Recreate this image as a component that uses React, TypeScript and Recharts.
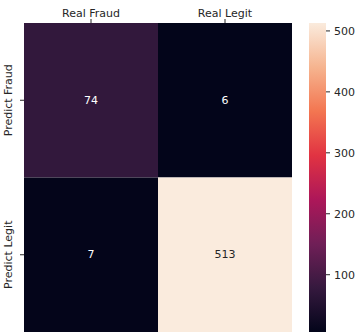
import React from "react";
import { BarChart, Bar, XAxis, YAxis, Cell, LabelList } from "recharts";

// confusion matrix: columns = actual, rows = prediction
const realLabels = ["Real Fraud", "Real Legit"];
const predictLabels = ["Predict Fraud", "Predict Legit"];
const predictFraud = [74, 6];
const predictLegit = [7, 513];
const colorbarTicks = [100, 200, 300, 400, 500];

// seaborn "rocket" colormap, sampled stops
const rocketStops = ["#03051a", "#35193e", "#701f57", "#ad1759", "#e13342", "#f37651", "#f6b48f", "#faebdd"];

const allValues = [...predictFraud, ...predictLegit];
const vmin = Math.min(...allValues);
const vmax = Math.max(...allValues);

function hexToRgb(h: string) {
  return [1, 3, 5].map((i) => parseInt(h.slice(i, i + 2), 16));
}

function rocket(value: number) {
  const t = Math.max(0, Math.min(1, (value - vmin) / (vmax - vmin)));
  const pos = t * (rocketStops.length - 1);
  const i = Math.min(Math.floor(pos), rocketStops.length - 2);
  const f = pos - i;
  const a = hexToRgb(rocketStops[i]);
  const b = hexToRgb(rocketStops[i + 1]);
  const c = a.map((v, k) => Math.round(v + (b[k] - v) * f));
  return `rgb(${c[0]},${c[1]},${c[2]})`;
}

const textFor = (value: number) => ((value - vmin) / (vmax - vmin) > 0.6 ? "#262626" : "#ffffff");

const data = realLabels.map((name, i) => ({
  name,
  fraudCell: 1,
  legitCell: 1,
  fraudCount: predictFraud[i],
  legitCount: predictLegit[i],
}));

const font = "'DejaVu Sans', sans-serif";

const YTick = (props: any) => {
  const { x, y, payload } = props;
  const label = predictLabels[Math.floor(payload.value)];
  return (
    <text
      x={x - 6}
      y={y}
      transform={`rotate(-90, ${x - 6}, ${y})`}
      textAnchor="middle"
      fontSize={11}
      fill="#262626"
      fontFamily={font}
    >
      {label}
    </text>
  );
};

const countLabel = (key: "fraudCount" | "legitCount") => (props: any) => {
  const { x, y, width, height, index } = props;
  const v = data[index][key];
  return (
    <text
      x={x + width / 2}
      y={y + height / 2}
      textAnchor="middle"
      dominantBaseline="central"
      fontSize={11}
      fill={textFor(v)}
      fontFamily={font}
    >
      {v}
    </text>
  );
};

export default function App() {
  return (
    <div style={{ position: "absolute", left: 0, top: 0, width: 359, height: 335, background: "#fff" }}>
      <div style={{ position: "absolute", left: 0, top: 0 }}>
        <BarChart
          width={292}
          height={335}
          data={data}
          margin={{ top: 0, right: 0, bottom: 3, left: 0 }}
          barCategoryGap={0}
        >
          <XAxis
            dataKey="name"
            orientation="top"
            height={23}
            axisLine={false}
            tickSize={4}
            tickLine={{ stroke: "#262626" }}
            tick={{ fontSize: 11, fill: "#262626", fontFamily: font }}
            interval={0}
          />
          <YAxis
            type="number"
            domain={[0, 2]}
            reversed
            ticks={[0.5, 1.5]}
            width={24}
            axisLine={false}
            tickSize={4}
            tickLine={{ stroke: "#262626" }}
            tick={<YTick />}
          />
          <Bar dataKey="fraudCell" stackId="m" isAnimationActive={false}>
            {data.map((d) => (
              <Cell key={d.name} fill={rocket(d.fraudCount)} />
            ))}
            <LabelList dataKey="fraudCount" content={countLabel("fraudCount")} />
          </Bar>
          <Bar dataKey="legitCell" stackId="m" isAnimationActive={false}>
            {data.map((d) => (
              <Cell key={d.name} fill={rocket(d.legitCount)} />
            ))}
            <LabelList dataKey="legitCount" content={countLabel("legitCount")} />
          </Bar>
        </BarChart>
      </div>

      {/* colorbar */}
      <div style={{ position: "absolute", left: 300, top: 0 }}>
        <BarChart
          width={59}
          height={335}
          data={[{ name: "cb", range: [vmin, vmax] }]}
          margin={{ top: 23, right: 0, bottom: 3, left: 9 }}
          barCategoryGap={0}
        >
          <defs>
            <linearGradient id="rocketGrad" x1="0" y1="1" x2="0" y2="0">
              {rocketStops.map((c, i) => (
                <stop key={c} offset={`${(i / (rocketStops.length - 1)) * 100}%`} stopColor={c} />
              ))}
            </linearGradient>
          </defs>
          <XAxis dataKey="name" hide />
          <YAxis
            type="number"
            orientation="right"
            domain={[vmin, vmax]}
            ticks={colorbarTicks}
            width={33}
            axisLine={false}
            tickSize={4}
            tickMargin={4}
            tickLine={{ stroke: "#262626" }}
            tick={{ fontSize: 11, fill: "#262626", fontFamily: font, textAnchor: "start" }}
          />
          <Bar dataKey="range" fill="url(#rocketGrad)" isAnimationActive={false} />
        </BarChart>
      </div>
    </div>
  );
}
